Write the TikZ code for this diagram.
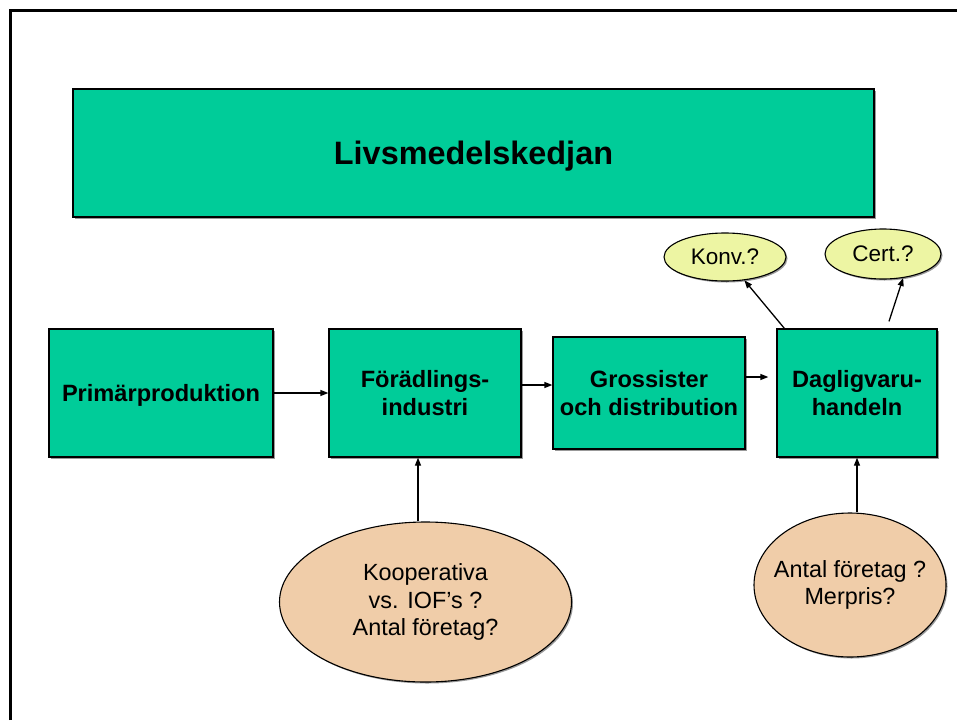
\documentclass[tikz,border=0pt]{standalone}
\usepackage{fontspec}
\setmainfont{Liberation Sans}
\usetikzlibrary{arrows.meta,shapes.geometric,shadows}
\definecolor{chaingreen}{HTML}{00CC99}
\definecolor{peach}{HTML}{F0CDA9}
\definecolor{paleyellow}{HTML}{EDF5A3}
\tikzset{
  shade/.style={drop shadow={shadow xshift=1.5pt,shadow yshift=-1.5pt,fill=black!40,opacity=1}},
  stage/.style={draw=black,line width=1.3pt,fill=chaingreen,shade,align=center,
    inner sep=0pt,font=\bfseries\fontsize{23.6}{28}\selectfont},
  question/.style={ellipse,draw=black,line width=1.1pt,fill=peach,shade,align=center,
    inner xsep=-25pt,inner ysep=-10pt,font=\fontsize{23.4}{27.5}\selectfont},
  tag/.style={ellipse,draw=black,line width=1.1pt,fill=paleyellow,shade,align=center,
    inner xsep=-10pt,inner ysep=-6pt,font=\fontsize{22.5}{27}\selectfont},
  arr/.style={line width=1.3pt,-{Triangle[length=8pt,width=6pt]}},
}
\begin{document}
\begin{tikzpicture}[x=1pt,y=-1pt]
  \useasboundingbox[fill=white] (0,0) rectangle (957,720);
  % outer frame, running off the page on the right and at the bottom
  \draw[line width=2.4pt] (10.5,720) -- (10.5,10.5) -- (957,10.5);

  % heading
  \node[stage,minimum width=801pt,minimum height=128pt,text depth=0pt,
        font=\bfseries\fontsize{32.4}{38}\selectfont] (title) at (473.5,153) {Livsmedelskedjan};

  % the chain
  \node[stage,minimum width=224pt,minimum height=128pt,text depth=0pt] (prim) at (161,393) {Primärproduktion};
  \node[stage,minimum width=192pt,minimum height=128pt] (ford) at (425,393) {Förädlings-\\industri};
  \node[stage,minimum width=192pt,minimum height=112pt] (gross) at (649,393) {Grossister\\och distribution};
  \node[stage,minimum width=160pt,minimum height=128pt] (dagl) at (857,393) {Dagligvaru-\\handeln};

  % questions
  \node[tag,minimum width=122pt,minimum height=48pt] (konv) at (725,257) {Konv.?};
  \node[tag,minimum width=116pt,minimum height=50pt] (cert) at (883,254) {Cert.?};
  \node[question,minimum width=292pt,minimum height=160pt] (koop) at (425.5,602)
       {Kooperativa\\vs. IOF’s ?\\Antal företag?};
  \node[question,minimum width=192pt,minimum height=144pt] (antal) at (850,585)
       {Antal företag ?\\Merpris?};

  % connectors along the chain
  \draw[arr] (prim.east) -- (ford.west);
  \draw[arr] ([yshift=8pt]ford.east) -- ([yshift=8pt]gross.west);
  \draw[arr] ([yshift=16pt]gross.east) -- ([yshift=16pt,xshift=-8pt]dagl.west);

  % connectors to and from the questions
  \draw[arr] ([xshift=8pt]dagl.north west) -- (konv);
  \coordinate (certfoot) at ([xshift=32pt,yshift=7pt]dagl.north);
  \draw[arr] (certfoot) -- (cert.-50);
  \coordinate (koopend) at ([xshift=-7pt]ford.south);
  \draw[arr] (koopend |- koop.north) -- (koopend);
  \draw[arr] (dagl.south |- antal.north) -- (dagl.south);
\end{tikzpicture}
\end{document}
